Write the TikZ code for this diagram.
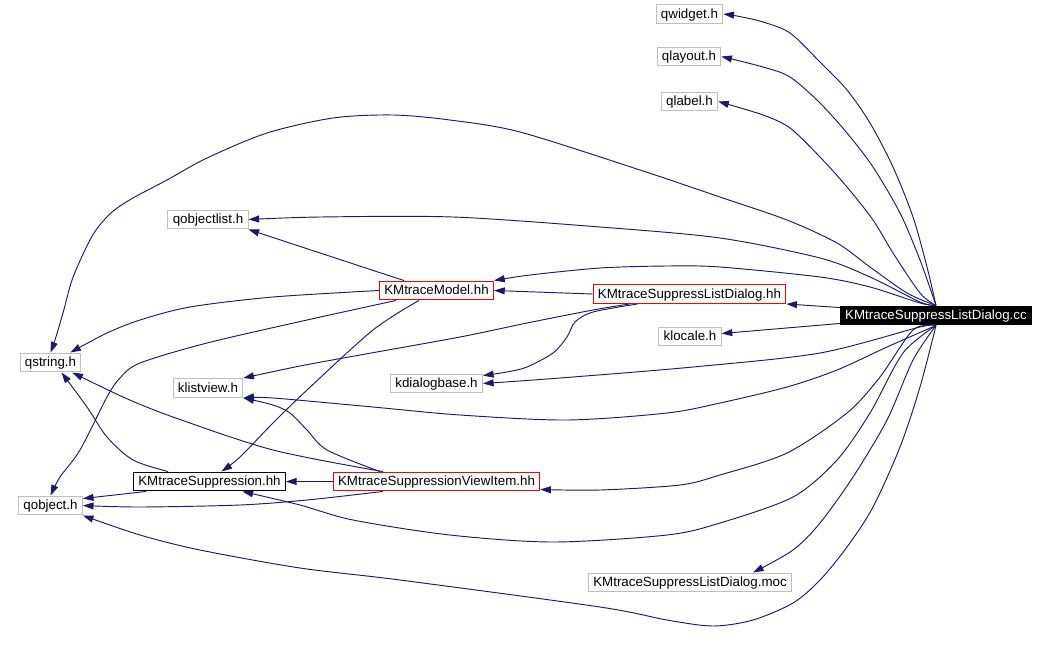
\documentclass[tikz,border=0pt]{standalone}
\usepackage{fontspec}
\setmainfont{Liberation Sans}
\usepackage{tikz}
\usetikzlibrary{arrows.meta,calc}
\definecolor{depblue}{HTML}{191970}
\definecolor{boxgray}{HTML}{BFBFBF}
\definecolor{boxred}{HTML}{FF0000}

\begin{document}
\begin{tikzpicture}[x=0.75pt,y=-0.75pt,font=\fontsize{10}{12}\selectfont,
  hfile/.style={draw=boxgray,line width=0.75pt,inner xsep=3.6pt,inner ysep=0pt,
    text height=7.9pt,text depth=1.4pt,minimum height=14.2pt},
  hred/.style={hfile,draw=boxred},
  hblack/.style={hfile,draw=black},
  hroot/.style={hfile,draw=black,fill=black,text=white},
  dep/.style={draw=depblue,line width=0.7pt,-{Triangle[length=8pt,width=5.2pt]}}]
% units are pixels of the 1049x654 graph, y runs downwards
\fill[white] (0,0) rectangle (1049,654);
\useasboundingbox (0,0) rectangle (1049,654);

% ---- the headers ---------------------------------------------------------
\node[hfile]  (qwidget)    at (689.5,14)   {qwidget.h};
\node[hfile]  (qlayout)    at (689,56.5)   {qlayout.h};
\node[hfile]  (qlabel)     at (689.5,101.5){qlabel.h};
\node[hfile]  (qobjlist)   at (208,219.5)  {qobjectlist.h};
\node[hred]   (model)      at (436.5,290.5){KMtraceModel.hh};
\node[hred]   (dlghh)      at (689.5,294)  {KMtraceSuppressListDialog.hh};
\node[hroot]  (cc)         at (936,315.5)  {KMtraceSuppressListDialog.cc};
\node[hfile]  (klocale)    at (690,336.5)  {klocale.h};
\node[hfile]  (qstring)    at (50.5,362.5) {qstring.h};
\node[hfile]  (klistview)  at (208,388)    {klistview.h};
\node[hfile]  (kdlgbase)   at (436.5,383.5){kdialogbase.h};
\node[hblack] (supp)       at (209.5,481.5){KMtraceSuppression.hh};
\node[hred]   (viewitem)   at (436.5,481.5){KMtraceSuppressionViewItem.hh};
\node[hfile]  (qobject)    at (50.5,505.5) {qobject.h};
\node[hfile]  (moc)        at (690,582.5)  {KMtraceSuppressListDialog.moc};

% ---- what the .cc pulls in: fan off its top edge ---------------------------
\draw[dep] plot[smooth,tension=0.5] coordinates {(cc.north) (927,267) (913,217) (893,167)
  (870,123) (847,90) (820,62) (790,33) (763,22) (737,16) (qwidget.east)};
\draw[dep] plot[smooth,tension=0.5] coordinates {(cc.north) (920,260) (900,213) (873,167)
  (847,133) (820,103) (790,77) (763,67) (qlayout.east)};
\draw[dep] plot[smooth,tension=0.5] coordinates {(cc.north) (920,293) (893,253) (873,220)
  (847,187) (820,157) (790,128) (763,115) (qlabel.east)};
\draw[dep] plot[smooth,tension=0.5] coordinates {(cc.north) (907,293) (870,267) (837,243)
  (787,220) (720,197) (640,170) (520,132) (450,120) (393,115) (333,118) (267,133)
  (207,158) (167,180) (133,198) (112,212) (96,230) (85,250) (72,280) (63,313) (55,340)
  (qstring.north)};
\draw[dep] plot[smooth,tension=0.5] coordinates {(cc.north) (920,302) (870,277) (820,258)
  (720,238) (600,227) (453,217) (320,217) (qobjlist.east)};
\draw[dep] plot[smooth,tension=0.5] coordinates {(cc.north) (920,303) (870,287) (820,277)
  (720,267) (667,266) (600,268) (530,275) (model.north east)};
\draw[dep] ($(cc.north west)+(0,2)$) -- (dlghh.south east);
\draw[dep] ($(cc.south west)+(0,-2)$) -- ($(klocale.east)+(0,-3)$);
% ... and off its bottom edge
\draw[dep] plot[smooth,tension=0.5] coordinates {(cc.south) (920,327) (820,353) (693,367)
  (560,378) (kdlgbase.east)};
\draw[dep] plot[smooth,tension=0.5] coordinates {(cc.south) (887,347) (837,370) (787,387)
  (720,403) (667,413) (567,420) (460,415) (373,407) (273,398) (klistview.south east)};
\draw[dep] plot[smooth,tension=0.5] coordinates {(cc.south) (913,330) (880,377) (847,413)
  (787,453) (720,475) (680,485) (600,490) ($(viewitem.south east)+(0,-2)$)};
\draw[dep] plot[smooth,tension=0.5] coordinates {(cc.south) (903,353) (870,413) (837,460)
  (793,497) (720,523) (667,535) (553,542) (450,535) (353,520) (300,505)
  ($(supp.south)+(33,0)$)};
\draw[dep] plot[smooth,tension=0.5] coordinates {(cc.south) (913,360) (887,420) (853,477)
  (820,523) (793,550) ($(moc.north)+(63,0)$)};
\draw[dep] plot[smooth,tension=0.5] coordinates {(cc.south) (920,387) (900,447) (873,507)
  (847,547) (820,580) (793,603) (753,620) (713,626) (667,620) (600,607) (400,580)
  (300,568) (200,550) (140,535) (qobject.south east)};

% ---- the dialog header ---------------------------------------------------
\draw[dep] (dlghh.west) -- (model.east);
\draw[dep] plot[smooth,tension=0.5] coordinates {($(dlghh.south)+(-52,0)$) (593,312)
  (575,322) (567,337) (553,353) (527,367) (507,372) ($(kdlgbase.north east)+(0,2)$)};
\draw[dep] plot[smooth,tension=0.5] coordinates {($(dlghh.south)+(-60,0)$) (593,310)
  (527,323) (460,337) (360,355) (300,366) (klistview.north east)};

% ---- the model -----------------------------------------------------------
\draw[dep] ($(model.north west)+(25,0)$) -- (qobjlist.south east);
\draw[dep] plot[smooth,tension=0.5] coordinates {(model.west) (273,297) (190,307)
  (140,320) (107,333) ($(qstring.north east)+(-11,0)$)};
\draw[dep] plot[smooth,tension=0.5] coordinates {($(model.south west)+(17,0)$) (307,320)
  (207,343) (140,363) (120,378) (107,397) (80,450) (60,477) (qobject.north)};
\draw[dep] plot[smooth,tension=0.5] coordinates {($(model.south west)+(40,0)$) (373,330)
  (307,390) (273,423) (240,457) ($(supp.north)+(12,0)$)};

% ---- the view item and the suppression -----------------------------------
\draw[dep] (viewitem.west) -- (supp.east);
\draw[dep] plot[smooth,tension=0.5] coordinates {($(viewitem.north west)+(47,0)$)
  (327,450) (307,430) (290,413) (273,405) (klistview.south east)};
\draw[dep] plot[smooth,tension=0.5] coordinates {($(viewitem.north west)+(50,0)$)
  (273,450) (173,417) (123,397) ($(qstring.south east)+(-9,0)$)};
\draw[dep] plot[smooth,tension=0.5] coordinates {($(viewitem.south west)+(50,0)$)
  (307,500) (240,505) (140,507) (qobject.east)};
\draw[dep] plot[smooth,tension=0.5] coordinates {($(supp.north west)+(35,0)$) (133,460)
  (107,437) (87,407) ($(qstring.south)+(11,0)$)};
\draw[dep] ($(supp.south west)+(13,0)$) -- ($(qobject.north east)+(0,3)$);
\end{tikzpicture}
\end{document}
